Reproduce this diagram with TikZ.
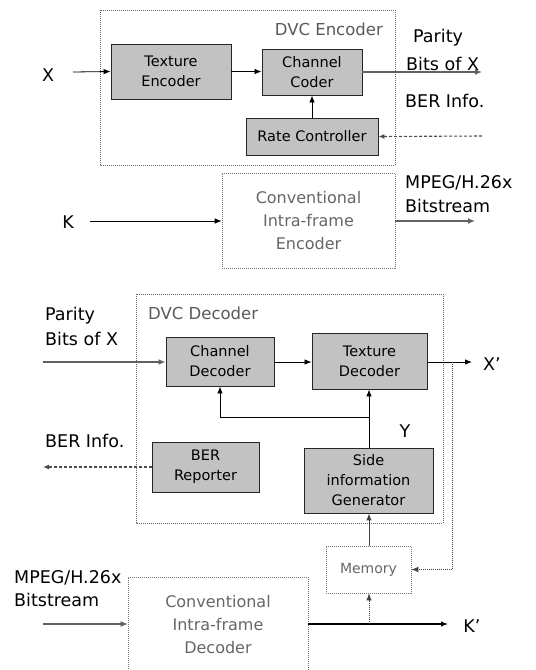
\documentclass[tikz,border=0pt]{standalone}
\usepackage{fontspec}
\setmainfont{DejaVu Sans}
\usetikzlibrary{arrows.meta,positioning,calc}

\tikzset{
  blk/.style={draw=black!85, line width=0.9pt, fill=black!24, inner sep=0pt,
    font=\fontsize{14.5}{20}\selectfont, align=center, text=black},
  ghost/.style={draw=black!55, line width=0.6pt, dash pattern=on 1pt off 1pt,
    inner sep=0pt, font=\fontsize{16}{23}\selectfont, align=center, text=black!60},
  frame/.style={draw=black!60, line width=0.6pt, dash pattern=on 1pt off 1pt},
  lbl/.style={font=\fontsize{17.5}{23}\selectfont, inner sep=0pt, align=left, anchor=west},
  tag/.style={font=\fontsize{17.5}{20}\selectfont, inner sep=0pt},
  arr/.style={line width=0.8pt, -{Latex[length=7pt,width=5.5pt]}},
  thick arr/.style={line width=1.4pt, draw=black!62, -{Latex[length=7pt,width=6pt]}},
  dash arr/.style={line width=1.1pt, draw=black!70, dash pattern=on 3pt off 2pt,
    -{Latex[length=6pt,width=5pt]}},
  dot arr/.style={line width=1pt, draw=black!75, dash pattern=on 1pt off 1pt,
    -{Latex[length=7pt,width=5.5pt]}},
}

\begin{document}
\begin{tikzpicture}[x=1pt,y=-1pt]
  \useasboundingbox (0,0) rectangle (536,670);
  \clip (0,0) rectangle (536,670);

  % ---------------- encoder side ----------------
  \draw[frame] (100,10) rectangle (395,165);
  \node[anchor=east, inner sep=0pt, font=\fontsize{16.5}{20}\selectfont, text=black!65]
    (enctitle) at (383,29) {DVC Encoder};

  \node[blk, minimum width=120pt, minimum height=55pt] (texenc) at (171,71.5) {Texture\\Encoder};
  \node[blk, minimum width=100pt, minimum height=46pt] (chcod) at (312,72) {Channel\\Coder};
  \node[blk, minimum width=132pt, minimum height=37pt]
    (ratectl) at (312,136.5) {Rate Controller};

  \node[tag] (xlab) at (48,75) {X};
  \coordinate (xin) at (73,72);
  \coordinate (parout) at (482,72);
  \coordinate (berin) at (482,136);

  \node[lbl] (par1) at (413,38) {Parity};
  \node[lbl] (par2) at (406,64) {Bits of X};
  \node[lbl] (ber1) at (405,101) {BER Info.};

  \draw[arr] (xin) -- (texenc.west);
  \draw[arr] (texenc.east) -- (chcod.west |- texenc.east);
  \draw[arr] (ratectl.north) -- (chcod.south);
  \draw[thick arr] (chcod.east) -- (parout);
  \draw[dash arr] (berin) -- (ratectl.east);

  \node[ghost, minimum width=173pt, minimum height=95pt] (convenc) at (308.5,220.5)
    {Conventional\\Intra-frame\\Encoder};
  \node[lbl] (mpeg1) at (405,183) {MPEG/H.26x};
  \node[lbl] (mpeg2) at (405,206) {Bitstream};
  \node[tag] (klab) at (68,222) {K};
  \coordinate (kin) at (90,221);
  \coordinate (encout) at (475,221);
  \draw[arr] (kin) -- (convenc.west |- kin);
  \draw[thick arr] (convenc.east |- encout) -- (encout);

  % ---------------- decoder side ----------------
  \draw[frame] (136,294) rectangle (443,523);
  \node[anchor=west, inner sep=0pt, font=\fontsize{16.5}{20}\selectfont, text=black!65]
    (dectitle) at (148,313) {DVC Decoder};

  \node[lbl] (dpar1) at (45,316) {Parity};
  \node[lbl] (dpar2) at (45,339) {Bits of X};
  \coordinate (parin) at (43,362);

  \node[blk, minimum width=108pt, minimum height=49pt] (chdec) at (220,361.5) {Channel\\Decoder};
  \node[blk, minimum width=115pt, minimum height=56pt] (texdec) at (369.5,361) {Texture\\Decoder};
  \node[blk, minimum width=129pt, minimum height=65pt] (sig) at (368.5,480.5)
    {Side\\information\\Generator};
  \node[blk, minimum width=107pt, minimum height=50pt] (berrep) at (205.5,467) {BER\\Reporter};

  \node[lbl] (dber) at (45,441) {BER Info.};
  \coordinate (berout) at (43,467);
  \node[tag] (ylab) at (405,431) {Y};

  \coordinate (xout) at (472,362);
  \node[tag] (xplab) at (492,364) {X’};
  \coordinate (fbtop) at (452,362);
  \coordinate (yjoin) at (369,417);

  \draw[thick arr] (parin) -- (chdec.west |- parin);
  \draw[arr] (chdec.east |- parin) -- (texdec.west |- parin);
  \draw[arr] (texdec.east |- parin) -- (xout);
  \draw[arr] (sig.north -| yjoin) -- (texdec.south -| yjoin);
  \draw[arr] (yjoin) -| (chdec.south);
  \draw[dash arr] (berrep.west) -- (berout);

  \node[ghost, minimum width=85pt, minimum height=47pt, font=\fontsize{14}{19}\selectfont]
    (mem) at (368.5,569.5) {Memory};
  \draw[arr, line width=1pt, draw=black!75] (mem.north -| yjoin) -- (sig.south -| yjoin);
  \draw[dot arr] (fbtop) |- (mem.east);

  \node[ghost, minimum width=180pt, minimum height=95pt] (convdec) at (218,624.5)
    {Conventional\\Intra-frame\\Decoder};
  \node[lbl] (dmpeg1) at (14,578) {MPEG/H.26x};
  \node[lbl] (dmpeg2) at (14,600) {Bitstream};
  \coordinate (bsin) at (43,624);
  \coordinate (kout) at (448,624);
  \coordinate (kjoin) at (369,624);
  \node[tag] (kplab) at (472,626) {K’};

  \draw[thick arr] (bsin) -- (convdec.west |- bsin);
  \draw[arr, line width=1.1pt] (convdec.east |- kout) -- (kout);
  \draw[dot arr] (kjoin) -- (mem.south -| kjoin);
\end{tikzpicture}
\end{document}
